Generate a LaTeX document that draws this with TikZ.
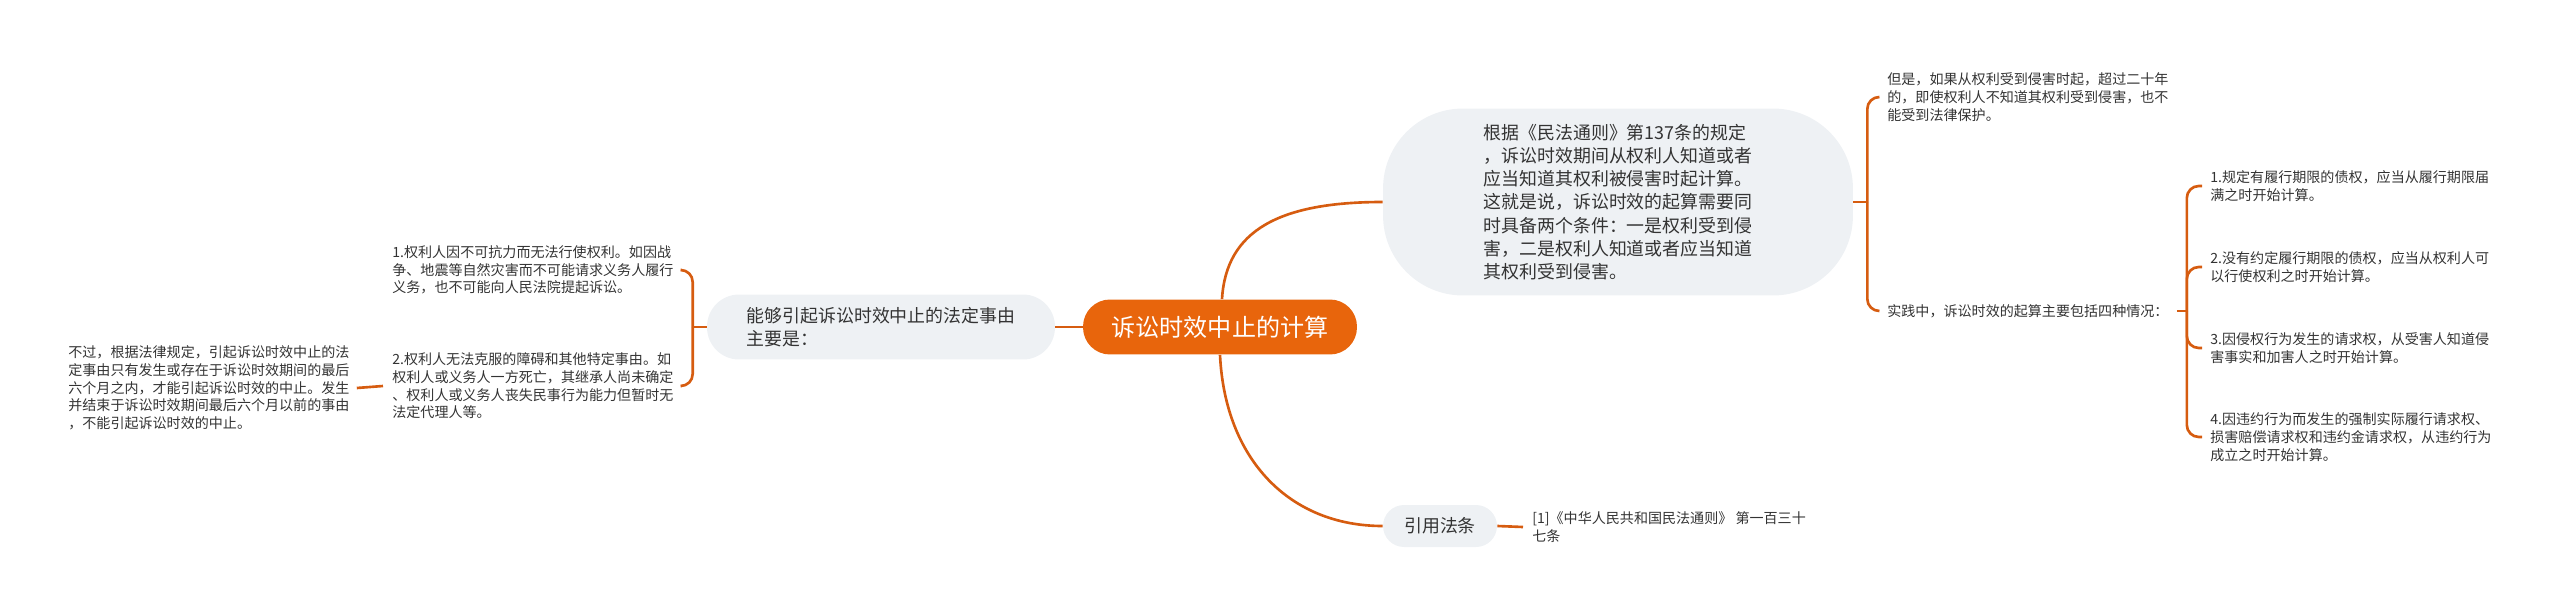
\documentclass[tikz,border=0pt]{standalone}
\usepackage{fontspec}
\setmainfont{Noto Sans CJK SC}
\usepackage{tikz}

\definecolor{rootorange}{HTML}{E8650C}
\definecolor{linkorange}{HTML}{D65C10}
\definecolor{pillgrey}{HTML}{EEF1F4}
\definecolor{txtgrey}{HTML}{333333}

\tikzset{
    link/.style={draw=linkorange, line width=1.5pt},
    brace/.style={link, rounded corners=0.24cm},
    rootpill/.style={fill=rootorange, text=white, rounded corners=0.54cm, minimum width=5.48cm, minimum height=1.1cm, inner sep=0pt, font=\fontsize{13.7}{16}\selectfont},
    pill/.style={fill=pillgrey, text=txtgrey, align=left, inner sep=0pt, font=\fontsize{10.2}{13.2}\selectfont},
    leaf/.style={text=txtgrey, align=left, anchor=west, inner sep=0pt, font=\fontsize{8}{10.1}\selectfont}
}

\begin{document}
\begin{tikzpicture}[x=0.02cm, y=-0.02cm]
    \useasboundingbox (0, 0) rectangle (2560, 612);

    % main topics
    \node[rootpill] (root) at (1220, 327) {诉讼时效中止的计算};
    \node[pill, minimum width=6.96cm, minimum height=1.3cm, rounded corners=0.64cm] (cause) at (881, 327) {能够引起诉讼时效中止的法定事由\\主要是：};
    \node[pill, minimum width=9.4cm, minimum height=3.74cm, rounded corners=1.6cm] (rule) at (1618, 202) {根据《民法通则》第137条的规定\\，诉讼时效期间从权利人知道或者\\应当知道其权利被侵害时起计算。\\这就是说，诉讼时效的起算需要同\\时具备两个条件：一是权利受到侵\\害，二是权利人知道或者应当知道\\其权利受到侵害。};
    \node[pill, minimum width=2.28cm, minimum height=0.84cm, rounded corners=0.42cm] (cite) at (1440, 526) {引用法条};

    % left leaves
    \node[leaf] (force) at (392, 270) {1.权利人因不可抗力而无法行使权利。如因战\\争、地震等自然灾害而不可能请求义务人履行\\义务，也不可能向人民法院提起诉讼。};
    \node[leaf] (obstacle) at (392, 386) {2.权利人无法克服的障碍和其他特定事由。如\\权利人或义务人一方死亡，其继承人尚未确定\\、权利人或义务人丧失民事行为能力但暂时无\\法定代理人等。};
    \node[leaf] (limit) at (68, 388) {不过，根据法律规定，引起诉讼时效中止的法\\定事由只有发生或存在于诉讼时效期间的最后\\六个月之内，才能引起诉讼时效的中止。发生\\并结束于诉讼时效期间最后六个月以前的事由\\，不能引起诉讼时效的中止。};

    % right leaves
    \node[leaf] (twenty) at (1887, 97) {但是，如果从权利受到侵害时起，超过二十年\\的，即使权利人不知道其权利受到侵害，也不\\能受到法律保护。};
    \node[leaf] (practice) at (1887, 311) {实践中，诉讼时效的起算主要包括四种情况：};
    \node[leaf] (caseA) at (2210, 186) {1.规定有履行期限的债权，应当从履行期限届\\满之时开始计算。};
    \node[leaf] (caseB) at (2210, 267) {2.没有约定履行期限的债权，应当从权利人可\\以行使权利之时开始计算。};
    \node[leaf] (caseC) at (2210, 348) {3.因侵权行为发生的请求权，从受害人知道侵\\害事实和加害人之时开始计算。};
    \node[leaf] (caseD) at (2210, 437) {4.因违约行为而发生的强制实际履行请求权、\\损害赔偿请求权和违约金请求权，从违约行为\\成立之时开始计算。};
    \node[leaf] (law) at (1532, 527) {[1]《中华人民共和国民法通则》 第一百三十\\七条};

    % connectors from the root
    \draw[link] (root.west) -- (cause.east);
    \draw[link] ([xshift=0.04cm]root.north) .. controls (1226, 230) and (1280, 202) .. (rule.west);
    \draw[link] (root.south) .. controls (1225, 460) and (1290, 526) .. (cite.west);

    % left side
    \draw[link] (cause.west) -- ++(-14, 0) coordinate (causeknot);
    \draw[brace] (causeknot) |- ([xshift=0.16cm]force.east);
    \draw[brace] (causeknot) |- ([xshift=0.16cm]obstacle.east);
    \draw[link] ([xshift=-0.18cm]obstacle.west) -- ([xshift=0.14cm]limit.east);

    % right side
    \draw[link] (rule.east) -- ++(14, 0) coordinate (ruleknot);
    \draw[brace] (ruleknot) |- ([xshift=-0.16cm]twenty.west);
    \draw[brace] (ruleknot) |- ([xshift=-0.16cm]practice.west);
    \draw[link] ([xshift=0.16cm]practice.east) -- ++(10, 0) coordinate (practiceknot);
    \foreach \kase in {caseA, caseB, caseC, caseD} {
        \draw[brace] (practiceknot) |- ([xshift=-0.16cm]\kase.west);
    }
    \draw[link] (cite.east) -- ([xshift=-0.18cm]law.west);
\end{tikzpicture}
\end{document}
